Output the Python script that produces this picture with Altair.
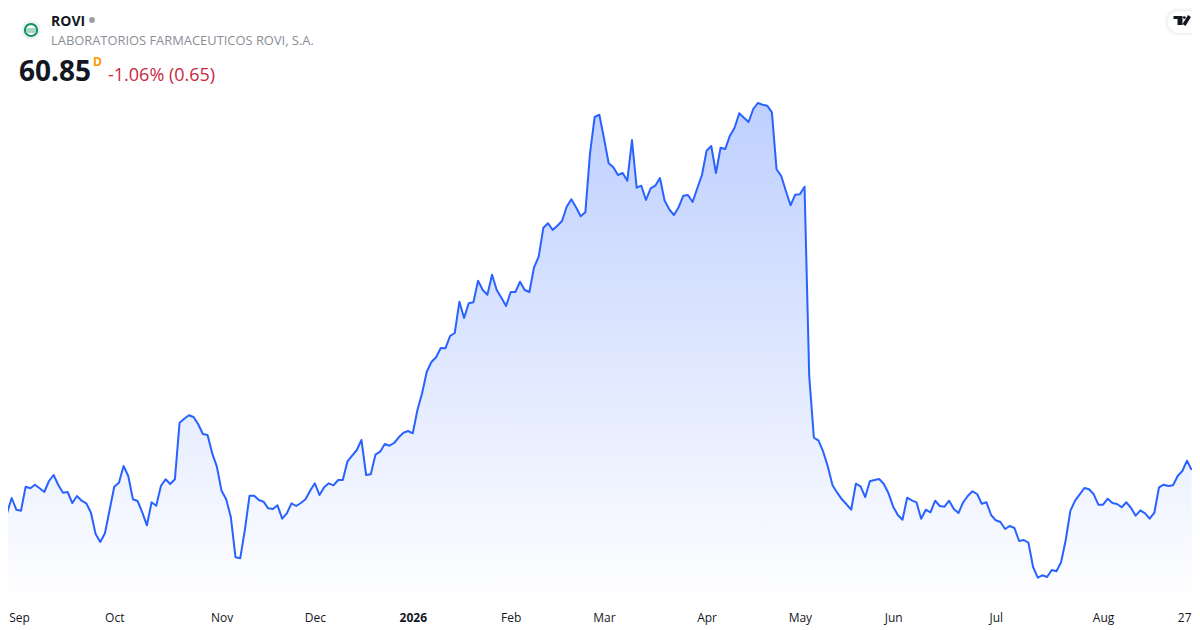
import altair as alt
import pandas as pd

prices_a = [57.05,56.52,58.05,56.88,56.78,59.18,59.02,59.38,59.02,58.65,59.75,60.35,59.35,58.58,58.65,57.55,58.25,57.78,57.52,56.58,54.45,53.65,54.52,56.85,59.18,59.58,61.25,60.25,57.92,57.75,56.62,55.32,57.62,57.28,59.25,59.92,59.45,59.92,65.58,65.98,66.32,66.15,65.42,64.45,64.35,62.52,61.18,58.78,57.92,56.12,52.12,52.02,54.85,58.28,58.28,57.85,57.68,57.02,56.95,57.32,55.98,56.52,57.52,57.25,57.55]
prices_b = [57.92,58.78,59.52,58.35,59.12,59.52,59.32,59.85,59.85,61.72,62.28,62.85,63.85,60.35,60.42,62.38,62.68,63.45,63.28,63.55,64.12,64.58,64.75,64.52,66.85,68.52,70.68,71.65,72.12,73.05,73.02,74.25,74.55,77.68,76.05,77.52,77.62,79.78,78.85,78.38,80.38,78.85,78.08,77.25,78.65,78.65,79.68,78.85,78.65,81.12,82.18]
prices_c = [85.08,85.52,84.85,85.28,85.75,87.18,87.92,87.12,86.22,86.62,92.52,96.15,96.38,94.02,91.52,91.12,90.35,90.55,89.78,93.85,89.08,89.28,87.85,89.02,89.28,90.05,87.78,86.92,86.35,87.12,88.28,88.35,87.65,89.02,90.35,92.78,93.25,90.55,93.08,92.95,94.28,95.08,96.52,96.08,95.65,96.95,97.55,97.38,97.28,96.62,90.92,90.25,88.75,87.32,88.38,88.42,89.18]
prices_d = [70.25,64.08,63.78,62.68,61.18,59.32,58.58,57.92,57.42,56.88,59.48,59.22,58.15,59.72,59.85,59.95,59.45,58.52,57.18,56.35,55.88,58.08,57.82,57.62,55.98,56.88,56.62,57.78,57.25,57.18,57.78,56.95,56.55,57.62,58.25,58.72,58.45,57.48,57.62,56.35,55.82,55.65,54.95,55.25,55.05,53.75,53.85,53.58,51.15,50.08,50.32,50.15,50.85,50.72,51.62,53.85,56.78,57.78,58.42,59.05,58.92,58.42,57.38,57.38,57.98,57.55,57.45,57.12,57.62,57.05,56.28,56.82,56.52,55.98,56.58,59.12,59.38,59.25,59.32,60.25,60.75,61.78,60.85]
prices = prices_a + prices_b + prices_c + prices_d

tick_index = [3.6, 24, 47, 67, 88, 109, 129, 151, 171, 191, 213, 236, 253.4]
tick_labels = ["Sep", "Oct", "Nov", "Dec", "2026", "Feb", "Mar", "Apr", "May", "Jun", "Jul", "Aug", "27"]

ticker = "ROVI"
company = "LABORATORIOS FARMACEUTICOS ROVI, S.A."
last_price = "60.85"
interval = "D"
change = "-1.06% (0.65)"

FONT = "Open Sans"
W, H = 1184, 596
BASE = 47.45
ox, oy = -8, -8  # page to svg offset

df = pd.DataFrame({"i": list(range(len(prices))), "price": prices, "base": [BASE] * len(prices)})
one = pd.DataFrame({"a": [0]})

label_map = "{" + ",".join(f"'{v}':'{t}'" for v, t in zip(tick_index, tick_labels)) + "}"
x = alt.X("i:Q",
          scale=alt.Scale(domain=[1.216, 255.07], nice=False, zero=False),
          axis=alt.Axis(values=tick_index, labelExpr=f"{label_map}[datum.value]", title=None,
                        grid=False, domain=False, ticks=False, labelAngle=0, labelFlush=False,
                        labelOverlap=False, labelFont=FONT, labelFontSize=12, labelColor="#131722",
                        labelPadding=8,
                        labelFontWeight={"condition": {"test": "datum.value == 88", "value": "bold"},
                                         "value": "normal"}))
y = alt.Y("price:Q",
          scale=alt.Scale(domain=[BASE, 107.05], nice=False, zero=False),
          axis=None)

area = alt.Chart(df).mark_area(
    color=alt.Gradient(gradient="linear",
                       stops=[alt.GradientStop(color="rgba(41,98,255,0.30)", offset=0),
                              alt.GradientStop(color="rgba(41,98,255,0.0)", offset=1)],
                       x1=0, x2=0, y1=0, y2=1),
    line=False, orient="vertical").encode(x=x, y=y, y2=alt.Y2("base:Q"))
line = alt.Chart(df).mark_line(color="#2962FF", strokeWidth=2, strokeJoin="round").encode(x=x, y=y)


def text(s, px, py, size, color, weight="normal"):
    return alt.Chart(one).mark_text(align="left", baseline="alphabetic", font=FONT, fontSize=size,
                                    color=color, fontWeight=weight).encode(
        x=alt.value(px + ox), y=alt.value(py + oy), text=alt.value(s))


def box(x1, x2, y1, y2, color, **kw):
    return alt.Chart(one).mark_rect(color=color, **kw).encode(
        x=alt.value(x1 + ox), x2=alt.value(x2 + ox), y=alt.value(y1 + oy), y2=alt.value(y2 + oy))


def dot(px, py, size, **kw):
    return alt.Chart(one).mark_point(**kw).encode(
        x=alt.value(px + ox), y=alt.value(py + oy), size=alt.value(size))


logo = [
    dot(31, 30, 380, filled=True, color="#eef1f9", opacity=1),
    dot(31, 30, 150, filled=True, color="#ffffff", opacity=1),
    dot(31, 30, 150, filled=False, color="#12925f", strokeWidth=2, opacity=1),
    box(26, 36, 28, 33, "#a5d8c2"),
]

s = -3.5  # the tab is nudged left so the whole glyph stays inside the page's drawable width
tv = [
    box(1168 + s, 1204, 8, 36, "#000000", cornerRadius=14, opacity=0.03),
    box(1170 + s, 1204, 10, 34, "#000000", cornerRadius=12, opacity=0.04),
    box(1171 + s, 1204, 11, 33, "#ffffff", cornerRadius=11),
    box(1177 + s, 1186 + s, 16, 19, "#131722"),
    box(1181 + s, 1186 + s, 19, 25, "#131722"),
    dot(1187.8 + s, 17.6, 8, filled=True, color="#131722", opacity=1),
    alt.Chart(one).mark_rule(color="#131722", strokeWidth=3.4).encode(
        x=alt.value(1193 + s + ox), x2=alt.value(1187.5 + s + ox), y=alt.value(16 + oy), y2=alt.value(25 + oy)),
]

header = [
    text(ticker, 51, 26, 14, "#131722", "bold"),
    dot(92, 20, 34, filled=True, color="#9e9e9e", opacity=1),
    text(company, 51, 45, 12.9, "#8a8e97"),
    text(last_price, 19, 81, 28, "#131722", "bold"),
    text(interval, 93, 66, 12, "#ff9800", "bold"),
    text(change, 108, 80.5, 18, "#c9283e"),
]

chart = alt.layer(area, line, *logo, *tv, *header).properties(
    width=W, height=H,
    padding={"left": 0, "top": 0, "right": 0, "bottom": 24},
    autosize=alt.AutoSizeParams(type="none"),
    background="#ffffff",
).configure_view(stroke=None)

chart.save("out.html", embed_options={"renderer": "svg", "actions": False})
